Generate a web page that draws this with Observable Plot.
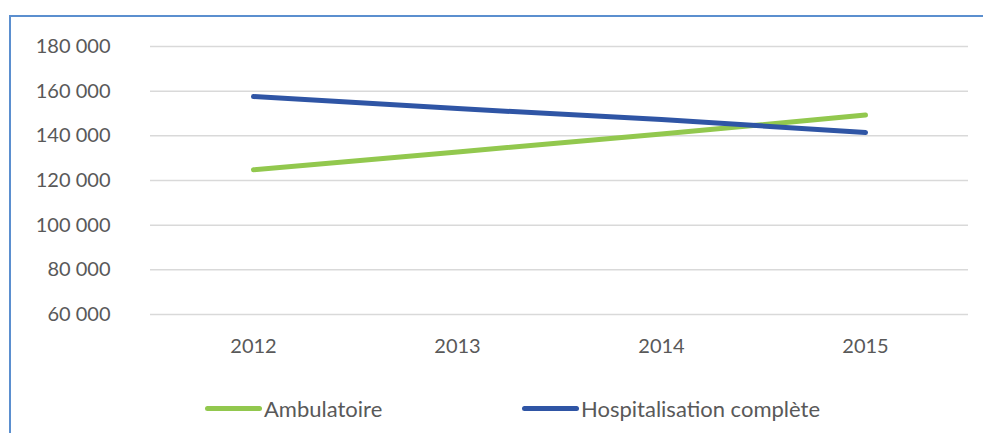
<!DOCTYPE html>
<html>
<head>
<meta charset="utf-8">
<script src="https://cdn.jsdelivr.net/npm/d3@7"></script>
<script src="https://cdn.jsdelivr.net/npm/@observablehq/plot@0.6"></script>
<style>
  html, body { margin: 0; padding: 0; background: #fff; }
  body { width: 983px; height: 433px; position: relative; overflow: hidden; font-family: Lato, "Open Sans", sans-serif; }
  #frame { position: absolute; left: 9px; top: 15px; width: 990px; height: 430px; border-left: 2px solid #5b8fcf; border-top: 2px solid #5b8fcf; box-sizing: border-box; }
  #chart { position: absolute; left: 0; top: 0; }
  #legend { position: absolute; top: 396px; left: 0; width: 983px; height: 24px; font-size: 22px; color: #595959; }
  .item { position: absolute; top: 0; display: flex; align-items: center; height: 24px; }
  .swatch { width: 57px; height: 5px; border-radius: 3px; margin-right: 2px; }
</style>
</head>
<body>
<div id="frame"></div>
<div id="chart"></div>
<div id="legend"></div>
<script>
const years = ["2012", "2013", "2014", "2015"];
const ambulatoire = [124800, 132800, 140800, 149300];
const hospitalisation = [157600, 152200, 147300, 141500];
const seriesNames = ["Ambulatoire", "Hospitalisation complète"];
const seriesColors = ["#92c84e", "#2f55a5"];
const yTicks = [60000, 80000, 100000, 120000, 140000, 160000, 180000];

const data = [];
years.forEach((y, i) => {
  data.push({year: y, value: ambulatoire[i], series: seriesNames[0]});
  data.push({year: y, value: hospitalisation[i], series: seriesNames[1]});
});

const fmt = d3.formatLocale({thousands: "\u00a0", grouping: [3], decimal: ","}).format(",");

const plot = Plot.plot({
  width: 983,
  height: 370,
  marginLeft: 150,
  marginRight: 15,
  marginTop: 46,
  marginBottom: 56,
  style: {fontFamily: "Lato, 'Open Sans', sans-serif", fontSize: "20px", color: "#595959", background: "transparent"},
  x: {type: "point", domain: years, padding: 0.5, label: null},
  y: {domain: [60000, 180000], label: null},
  color: {domain: seriesNames, range: seriesColors},
  marks: [
    Plot.gridY(yTicks, {stroke: "#d9d9d9", strokeOpacity: 1, strokeWidth: 1.5}),
    Plot.axisY({ticks: yTicks, tickFormat: fmt, tickSize: 0, tickPadding: 40, label: null, fill: "#595959", fontSize: 20}),
    Plot.axisX({tickSize: 0, tickPadding: 24, label: null, fill: "#595959", fontSize: 20}),
    Plot.line(data, {x: "year", y: "value", stroke: "series", z: "series", strokeWidth: 5, strokeLinecap: "round", strokeLinejoin: "round"})
  ]
});
document.getElementById("chart").appendChild(plot);

const legend = document.getElementById("legend");
const lefts = [205, 522];
seriesNames.forEach((name, i) => {
  const item = document.createElement("div");
  item.className = "item";
  item.style.left = lefts[i] + "px";
  const sw = document.createElement("div");
  sw.className = "swatch";
  sw.style.background = seriesColors[i];
  const tx = document.createElement("span");
  tx.textContent = name;
  item.appendChild(sw);
  item.appendChild(tx);
  legend.appendChild(item);
});
</script>
</body>
</html>
